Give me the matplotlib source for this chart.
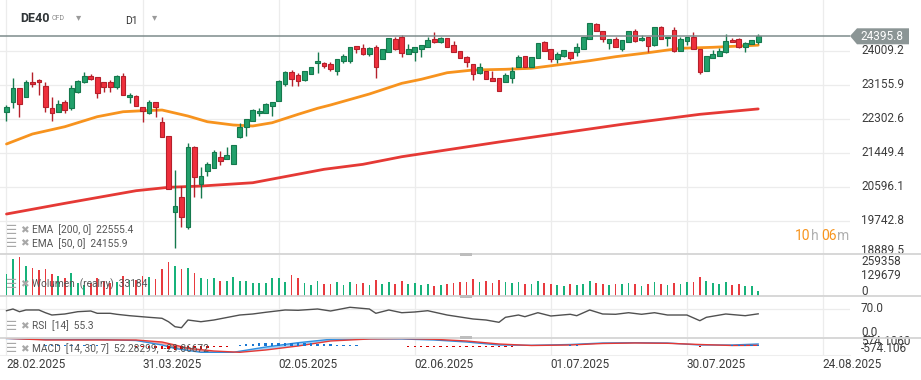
import numpy as np
import matplotlib
matplotlib.use("Agg")
import matplotlib.pyplot as plt
from matplotlib.transforms import blended_transform_factory
from matplotlib.patches import Polygon, Rectangle
from matplotlib.lines import Line2D

plt.rcParams['font.family'] = ['Roboto', 'DejaVu Sans']

# ---------------- data ----------------
opens = [22470, 22736, 23073, 22847, 23223, 23281, 23130, 22571, 22470, 22729,
         22571, 22987, 23223, 23389, 23349, 23223, 23223, 23098, 23389, 22847,
         22879, 22611, 22445, 22721, 22219, 21875, 19975, 20337, 19584, 21612,
         20663, 20997, 21085, 21341, 21291, 21165, 21858, 22109, 22260, 22445,
         22460, 22636, 22762, 23173, 23474, 23407, 23281, 23424, 23700, 23700,
         23683, 23515, 23766, 23766, 24135, 24084, 23941, 24102, 23801, 23976,
         24310, 24353, 23926, 23991, 24052, 24117, 24303, 24242, 24328, 24160,
         24009, 23851, 23683, 23449, 23515, 23324, 23324, 23238, 23324, 23615,
         23883, 23600, 23826, 24227, 24059, 23801, 23891, 23976, 23976, 24067,
         24303, 24679, 24519, 24202, 24303, 24052, 24227, 24511, 24285, 24353,
         24160, 24604, 24328, 24536, 24017, 24268, 24368, 24059, 23515, 23841,
         23891, 23991, 24285, 24310, 24117, 24177, 24242]
highs = [22654, 23324, 23080, 23281, 23474, 23306, 23223, 22847, 22779, 22779,
         23156, 23281, 23474, 23432, 23349, 23223, 23281, 23407, 23449, 22947,
         22905, 22611, 22779, 22721, 22345, 21875, 21022, 20620, 21692, 21624,
         21090, 21230, 21512, 21499, 21607, 21650, 22194, 22295, 22546, 22571,
         22696, 22736, 23281, 23515, 23532, 23449, 23507, 23600, 23976, 23733,
         23740, 23801, 23926, 24117, 24135, 24185, 24117, 24160, 24052, 24328,
         24353, 24411, 24185, 24102, 24160, 24353, 24478, 24368, 24328, 24260,
         24009, 23883, 23683, 23700, 23515, 23515, 23324, 23449, 23615, 23909,
         23883, 23851, 24202, 24268, 24059, 23991, 24034, 23976, 24202, 24353,
         24724, 24704, 24519, 24303, 24353, 24285, 24511, 24554, 24411, 24353,
         24604, 24637, 24368, 24604, 24353, 24353, 24478, 24059, 23883, 24034,
         24092, 24428, 24328, 24328, 24227, 24285, 24436]
lows = [22260, 22571, 22360, 22847, 23098, 22905, 22485, 22260, 22470, 22445,
        22528, 22955, 23198, 23281, 22822, 22972, 22972, 23055, 22905, 22696,
        22636, 22219, 22428, 22360, 21843, 20538, 19057, 19599, 19534, 20352,
        20312, 20879, 21072, 21140, 21291, 21165, 21833, 21888, 22260, 22385,
        22445, 22385, 22762, 23138, 23138, 23138, 23256, 23424, 23449, 23575,
        23507, 23407, 23715, 23715, 23951, 23916, 23891, 23324, 23801, 23976,
        24034, 23866, 23926, 23766, 23851, 24117, 24202, 24217, 24102, 23976,
        23841, 23615, 23281, 23424, 23299, 23264, 23013, 23238, 23198, 23615,
        23600, 23600, 23826, 24017, 23740, 23715, 23866, 23783, 23891, 24059,
        24303, 24519, 24242, 24052, 24102, 24017, 24227, 24242, 24268, 23991,
        24142, 24303, 24142, 23991, 24017, 24160, 24059, 23432, 23515, 23841,
        23891, 23966, 24227, 24077, 23991, 24177, 24177]
closes = [22596, 23073, 22679, 23223, 23173, 23223, 22611, 22445, 22679, 22528,
          23073, 23256, 23389, 23299, 22947, 23113, 23098, 23389, 22905, 22912,
          22636, 22511, 22736, 22611, 21843, 20538, 20118, 19835, 21592, 20854,
          20884, 21165, 21466, 21261, 21399, 21642, 22101, 22295, 22516, 22503,
          22679, 22736, 23256, 23489, 23299, 23264, 23507, 23600, 23750, 23640,
          23550, 23801, 23883, 24102, 24067, 23934, 24084, 23615, 24052, 24328,
          24059, 23951, 24059, 24102, 24160, 24285, 24227, 24328, 24117, 23991,
          23841, 23740, 23424, 23600, 23299, 23264, 23013, 23407, 23515, 23851,
          23600, 23851, 24202, 24017, 23801, 23934, 24034, 23826, 24102, 24353,
          24724, 24519, 24303, 24303, 24102, 24285, 24511, 24268, 24328, 24142,
          24604, 24303, 24368, 24017, 24303, 24353, 24059, 23489, 23883, 23934,
          24009, 24260, 24227, 24117, 24202, 24285, 24395.8]
volumes = [161600, 274400, 291700, 221800, 209000, 191700, 197000, 159400, 146600, 129300,
           166900, 94000, 78900, 96200, 129300, 109000, 96200, 103700, 148900, 116500,
           116500, 148900, 136800, 124000, 197000, 254100, 224000, 197000, 209000, 171400,
           129300, 121800, 129300, 111300, 111300, 141300, 111300, 111300, 96200, 96200,
           91700, 129300, 129300, 99200, 154100, 129300, 95000, 80000, 110000, 85000,
           90000, 100000, 80000, 105000, 85000, 95000, 80000, 120000, 90000, 100000,
           90000, 110000, 85000, 95000, 80000, 85000, 75000, 80000, 90000, 95000,
           100000, 105000, 125000, 100000, 110000, 95000, 120000, 100000, 95000, 105000,
           90000, 85000, 110000, 95000, 85000, 80000, 75000, 85000, 80000, 90000,
           110000, 95000, 85000, 80000, 90000, 85000, 95000, 90000, 75000, 90000,
           100000, 90000, 80000, 95000, 85000, 100000, 105000, 140000, 110000, 95000,
           85000, 100000, 80000, 85000, 75000, 70000, 33184]

ema50_idx = [0, 4, 9, 14, 18, 21, 24, 28, 31, 35, 38, 41, 45, 48, 50, 56, 61, 64, 68,
             72, 77, 81, 85, 90, 94, 99, 104, 109, 116]
ema50_val = [21675, 21926, 22109, 22360, 22485, 22510, 22528, 22377, 22234, 22152, 22127,
             22209, 22420, 22571, 22654, 22930, 23198, 23299, 23464, 23532, 23550, 23575,
             23658, 23766, 23866, 23966, 24077, 24102, 24155.9]
ema200_idx = [0, 9, 20, 25, 30, 38, 49, 55, 61, 76, 95, 107, 116]
ema200_val = [19918, 20186, 20503, 20588, 20620, 20703, 21040, 21165, 21356, 21725,
              22169, 22420, 22555.4]

rsi_idx = [0, 1, 2, 3, 5, 6, 7, 9, 11, 13, 14, 16, 17, 19, 22, 24, 25, 26, 27, 28, 30,
           32, 36, 38, 40, 43, 45, 48, 50, 53, 56, 57, 59, 61, 63, 65, 68, 72, 74, 76,
           77, 79, 80, 82, 84, 87, 88, 90, 92, 94, 96, 98, 100, 102, 105, 107, 108,
           111, 114, 116]
rsi_val = [64.8, 70.0, 61.8, 67.0, 67.0, 58.7, 51.7, 54.8, 61.8, 63.9, 56.9, 56.9, 53.9,
           49.6, 44.7, 41.7, 31.3, 16.1, 13.1, 36.5, 31.3, 36.5, 51.7, 54.8, 60.0, 67.0,
           66.0, 70.0, 63.9, 75.2, 70.0, 56.9, 67.0, 58.7, 60.9, 64.8, 51.7, 39.6, 36.5,
           29.5, 44.7, 51.7, 46.6, 58.7, 48.7, 53.9, 49.6, 67.0, 54.8, 53.9, 58.7, 53.9,
           58.7, 51.7, 51.7, 34.4, 44.7, 54.8, 49.6, 55.3]

macd_idx = [0, 6, 14, 20, 24, 26, 30, 35, 40, 45, 50, 56, 61, 66, 71, 76, 81, 87, 92,
            97, 102, 107, 112, 116]
macd_val = [538, 467, 467, 395, 72, -180, -452, -452, -72, 237, 481, 517, 503, 431, 287,
            72, 50, 108, 215, 237, 215, 72, 72, 144]
signal_idx = [0, 6, 14, 20, 24, 26, 28, 32, 36, 40, 45, 50, 56, 61, 66, 71, 76, 81, 87,
              92, 97, 102, 107, 112, 116]
signal_val = [553, 431, 431, 431, 287, 72, -165, -359, -452, -287, 0, 359, 503, 538, 481,
              359, 144, 36, 72, 180, 215, 194, 108, 36, 50]

date_idx = [0, 21, 42, 63, 84, 105, 126]
date_labels = ['28.02.2025', '31.03.2025', '02.05.2025', '02.06.2025', '01.07.2025',
               '30.07.2025', '24.08.2025']
price_ticks = [24009.2, 23155.9, 22302.6, 21449.4, 20596.1, 19742.8, 18889.5]
vol_tick_labels = ['259358', '129679', '0']
rsi_tick_labels = ['70.0', '0.0']
macd_tick_labels = ['574.1060', '-574.106']
last_price = 24395.8

# ---------------- layout ----------------
W, H = 921, 380
fig = plt.figure(figsize=(W / 100, H / 100), dpi=100)
fig.patch.set_facecolor('white')


def rect(x0, y0, x1, y1):
    return [x0 / W, 1 - y1 / H, (x1 - x0) / W, (y1 - y0) / H]


def ftext(x, y, s, **kw):
    kw.setdefault('va', 'center')
    kw.setdefault('ha', 'left')
    return fig.text(x / W, 1 - y / H, s, **kw)


XL = (-1.003, 130.17)
ax_p = fig.add_axes(rect(0, 0, 850, 254))
ax_v = fig.add_axes(rect(0, 255, 850, 296))
ax_r = fig.add_axes(rect(0, 297, 850, 337))
ax_m = fig.add_axes(rect(0, 338, 850, 355))

for a in (ax_p, ax_v, ax_r, ax_m):
    a.set_xlim(*XL)
    a.set_facecolor('none')
    for sp in a.spines.values():
        sp.set_visible(False)
    a.set_xticks([])
    a.set_yticks([])
    for d in date_idx:
        a.axvline(d, color='#ececec', lw=0.9, zorder=0)

ax_p.set_ylim(18914.5, 25289.0)
ax_v.set_ylim(-3759, 304479)
ax_r.set_ylim(-15.2, 106.5)
ax_m.set_ylim(-646, 574)

GRID = '#ececec'
for t in price_ticks:
    ax_p.axhline(t, color=GRID, lw=0.9, zorder=0)
ax_r.axhline(70, color=GRID, lw=0.9, zorder=0)

# ---------------- candles ----------------
idx = np.arange(len(closes))
o = np.array(opens, float)
c = np.array(closes, float)
hi = np.array(highs, float)
lo = np.array(lows, float)
up = c >= o
G_FILL, G_EDGE = '#22a06b', '#15794d'
R_FILL, R_EDGE = '#ef2f3c', '#b5202b'
fills = np.where(up, G_FILL, R_FILL)
edges = np.where(up, G_EDGE, R_EDGE)
ax_p.vlines(idx, lo, hi, colors=edges, lw=1.0, zorder=3)
body_h = np.maximum(np.abs(c - o), 12)
ax_p.bar(idx, body_h, bottom=np.minimum(o, c), width=0.72, color=fills,
         edgecolor=edges, linewidth=0.8, zorder=4)

# EMAs
ax_p.plot(ema50_idx, ema50_val, color='#f7931e', lw=2.0, zorder=2, solid_capstyle='round',
          solid_joinstyle='round')
ax_p.plot(ema200_idx, ema200_val, color='#e53935', lw=2.0, zorder=2, solid_capstyle='round',
          solid_joinstyle='round')

# current price line + label
ax_p.axhline(last_price, color='#7d8b8b', lw=1.1, zorder=5)
box = Polygon([(850 / W, 1 - 36 / H), (857 / W, 1 - 28.3 / H), (909 / W, 1 - 28.3 / H),
               (909 / W, 1 - 44.3 / H), (857 / W, 1 - 44.3 / H)], closed=True,
              transform=fig.transFigure, facecolor='#8b9595', edgecolor='none', zorder=10)
fig.patches.append(box)
ftext(860, 36.6, f'{last_price:.1f}', color='white', fontsize=8.5, zorder=11)

# price tick labels
bt = blended_transform_factory(fig.transFigure, ax_p.transData)
ylo = ax_p.get_ylim()[0]
for t in price_ticks:
    yv = t if t > ylo + 150 else ylo + 100
    ax_p.text(861 / W, yv, f'{t:.1f}', transform=bt, fontsize=8.5, color='#3c3c3c',
              va='center', ha='left', clip_on=False)

# timer
ftext(795, 236, '10', color='#f7941d', fontsize=10)
ftext(810.5, 236, 'h', color='#b0b0b0', fontsize=10)
ftext(821, 236, '06', color='#f7941d', fontsize=10)
ftext(836.5, 236, 'm', color='#b0b0b0', fontsize=10)

# ---------------- volume ----------------
ax_v.bar(idx, volumes, width=0.26, color=np.where(up, '#17b27a', '#e83a3f'), zorder=2)
for yy, lab in zip((261.5, 275.8, 291.3), vol_tick_labels):
    ftext(861, yy, lab, fontsize=8.5, color='#3c3c3c')

# ---------------- RSI ----------------
ax_r.plot(rsi_idx, rsi_val, color='#505050', lw=1.0, zorder=3)
btr = blended_transform_factory(fig.transFigure, ax_r.transData)
for t, lab in zip((70.0, 0.0), rsi_tick_labels):
    ax_r.text(861 / W, t, lab, transform=btr, fontsize=8.5, color='#3c3c3c',
              va='center', ha='left', clip_on=False)

# ---------------- MACD ----------------
gx = np.arange(len(closes))
m = np.interp(gx, macd_idx, macd_val)
s = np.interp(gx, signal_idx, signal_val)
ax_m.fill_between(gx, m, s, where=m >= s, interpolate=True, color='#64b5f6', alpha=0.6, lw=0, zorder=2)
ax_m.fill_between(gx, m, s, where=m < s, interpolate=True, color='#ef6f6f', alpha=0.6, lw=0, zorder=2)
ax_m.plot(macd_idx, macd_val, color='#2f8fe0', lw=1.0, zorder=3)
ax_m.plot(signal_idx, signal_val, color='#e53935', lw=1.0, zorder=3)
hist = m - s
ax_m.bar(gx, hist, width=0.38, color=np.where(hist >= 0, '#1976d2', '#d50000'), zorder=4)
ftext(861, 341.7, macd_tick_labels[0], fontsize=8.5, color='#3c3c3c')
ftext(861, 348.3, macd_tick_labels[1], fontsize=8.5, color='#3c3c3c')

# ---------------- dates ----------------
btd = blended_transform_factory(ax_m.transData, fig.transFigure)
for d, lab in zip(date_idx, date_labels):
    ax_m.text(d - 0.02, 1 - 364 / H, lab, transform=btd, fontsize=8.5, color='#3c3c3c',
              va='center', ha='left', clip_on=False)

# ---------------- separators & handles ----------------
for yy in (254.3, 296.3, 337.6):
    fig.add_artist(Line2D([0, 1], [1 - yy / H] * 2, transform=fig.transFigure,
                          color='#d4d4d4', lw=1.3, zorder=6))
    fig.patches.append(Rectangle((460 / W, 1 - (yy + 1.3) / H), 12 / W, 2.6 / H,
                                 transform=fig.transFigure, facecolor='#bdbdbd',
                                 edgecolor='none', zorder=7))
fig.add_artist(Line2D([0, 850 / W], [1 - 354.5 / H] * 2, transform=fig.transFigure,
                      color='#eeeeee', lw=0.8, zorder=1))

# ---------------- header ----------------
ftext(20, 18.3, 'DE40', fontsize=9, fontweight='bold', color='#2f3437')
ftext(52, 19, 'CFD', fontsize=5, color='#8a8a8a')
ftext(76, 17, '▾', fontsize=7.5, color='#9a9a9a', family=['DejaVu Sans'])
ftext(125, 20.5, 'D1', fontsize=7.5, color='#333333')
ftext(152, 17, '▾', fontsize=7.5, color='#9a9a9a', family=['DejaVu Sans'])

# ---------------- legends ----------------
LEG = '#555555'
ICON = '#a8a8a8'


def legend_row(y, txt):
    ftext(5.5, y, '☰', fontsize=9, color=ICON, family=['DejaVu Sans'])
    ftext(20, y, '✖', fontsize=7.5, color=ICON, family=['DejaVu Sans'])
    ftext(31.5, y, txt, fontsize=7.3, color=LEG)


legend_row(230, 'EMA  [200, 0]  22555.4')
legend_row(243.3, 'EMA  [50, 0]  24155.9')
legend_row(284.5, 'Wolumen  (realny)  33184')
legend_row(326, 'RSI  [14]  55.3')
legend_row(349, 'MACD  [14, 30, 7]  52.28299,  -29.86672')

fig.savefig('out.png', dpi=100, facecolor='white')
